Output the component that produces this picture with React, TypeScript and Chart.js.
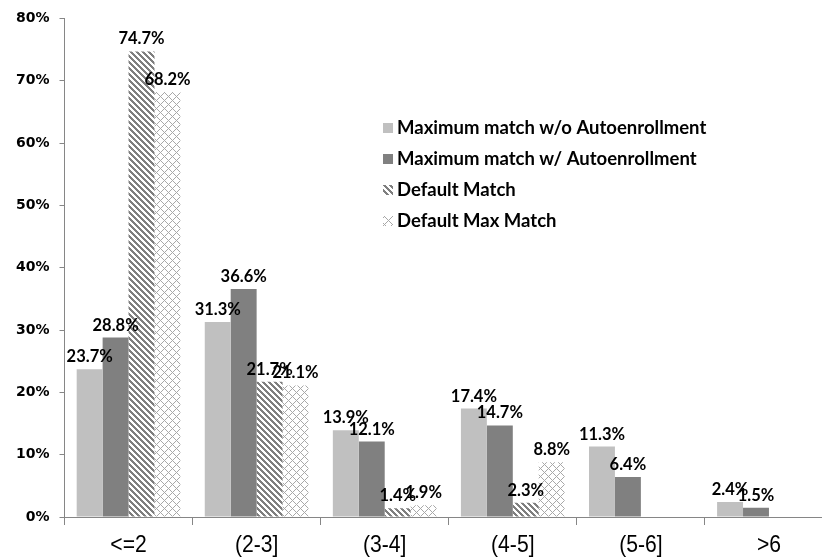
import React, { useEffect, useRef } from "react";
import { Chart, registerables } from "chart.js";

Chart.register(...registerables);

const categories = ["<=2", "(2-3]", "(3-4]", "(4-5]", "(5-6]", ">6"];
const seriesNames = [
  "Maximum match w/o Autoenrollment",
  "Maximum match w/ Autoenrollment",
  "Default Match",
  "Default Max Match",
];
const maxMatchNoAuto = [23.7, 31.3, 13.9, 17.4, 11.3, 2.4];
const maxMatchAuto = [28.8, 36.6, 12.1, 14.7, 6.4, 1.5];
const defaultMatch = [74.7, 21.7, 1.4, 2.3, null, null];
const defaultMaxMatch = [68.2, 21.1, 1.9, 8.8, null, null];
const yTicks = [0, 10, 20, 30, 40, 50, 60, 70, 80];

function makeDiagonal(): CanvasPattern | string {
  const s = 6;
  const c = document.createElement("canvas");
  c.width = s;
  c.height = s;
  const ctx = c.getContext("2d")!;
  ctx.fillStyle = "#ffffff";
  ctx.fillRect(0, 0, s, s);
  ctx.fillStyle = "#7f7f7f";
  for (let x = 0; x < s; x++)
    for (let y = 0; y < s; y++) {
      const d = (((x - y) % s) + s) % s;
      if (d < 3) ctx.fillRect(x, y, 1, 1);
    }
  return ctx.createPattern(c, "repeat") || "#888";
}

function makeDiamond(): CanvasPattern | string {
  const s = 8;
  const c = document.createElement("canvas");
  c.width = s;
  c.height = s;
  const ctx = c.getContext("2d")!;
  ctx.fillStyle = "#ffffff";
  ctx.fillRect(0, 0, s, s);
  ctx.fillStyle = "#a8a8a8";
  for (let x = 0; x < s; x++)
    for (let y = 0; y < s; y++) {
      const a = (((x - y) % s) + s) % s;
      const b = (x + y) % s;
      if (a === 0 || b === 0) ctx.fillRect(x, y, 1, 1);
    }
  return ctx.createPattern(c, "repeat") || "#ccc";
}

export default function App() {
  const ref = useRef<HTMLCanvasElement>(null);
  useEffect(() => {
    document.documentElement.style.overflow = "hidden";
    document.body.style.overflow = "hidden";
    const diag = makeDiagonal();
    const diam = makeDiamond();
    const fills = ["#c0c0c0", "#808080", diag, diam];

    const labelPlugin = {
      id: "barLabels",
      afterDatasetsDraw(chart: any) {
        const ctx = chart.ctx;
        ctx.save();
        ctx.font = "bold 16.5px Lato";
        ctx.fillStyle = "#000";
        ctx.textAlign = "center";
        ctx.textBaseline = "alphabetic";
        chart.data.datasets.forEach((ds: any, di: number) => {
          const meta = chart.getDatasetMeta(di);
          meta.data.forEach((bar: any, i: number) => {
            const v = ds.data[i];
            if (v === null || v === undefined) return;
            ctx.fillText(v.toFixed(1) + "%", bar.x, bar.y - 7);
          });
        });
        ctx.restore();
      },
    };

    const xLabelPlugin = {
      id: "xLabels",
      afterDraw(chart: any) {
        const ctx = chart.ctx;
        const xs = chart.scales.x;
        ctx.save();
        ctx.font = "24px 'Liberation Sans'";
        ctx.fillStyle = "#000";
        ctx.textAlign = "center";
        ctx.textBaseline = "alphabetic";
        const base = chart.chartArea.bottom + 35;
        categories.forEach((c, i) => {
          const px = xs.getPixelForValue(i);
          ctx.save();
          ctx.translate(px, base);
          ctx.scale(0.88, 1);
          ctx.fillText(c, 0, 0);
          ctx.restore();
        });
        ctx.restore();
      },
    };

    const legendPlugin = {
      id: "customLegend",
      afterDraw(chart: any) {
        const ctx = chart.ctx;
        ctx.save();
        const x0 = 383;
        const y0 = 128;
        const gap = 31;
        ctx.font = "bold 18.5px Lato";
        ctx.textBaseline = "middle";
        ctx.textAlign = "left";
        seriesNames.forEach((name, i) => {
          const y = y0 + i * gap;
          ctx.fillStyle = fills[i] as any;
          ctx.fillRect(x0, y - 5, 10, 10);
          ctx.fillStyle = "#000";
          ctx.fillText(name, x0 + 14, y);
        });
        ctx.restore();
      },
    };

    const data = [maxMatchNoAuto, maxMatchAuto, defaultMatch, defaultMaxMatch];
    const chart = new Chart(ref.current!, {
      type: "bar",
      data: {
        labels: categories,
        datasets: seriesNames.map((n, i) => ({
          label: n,
          data: data[i] as any,
          backgroundColor: fills[i] as any,
          borderWidth: 0,
          categoryPercentage: 0.81,
          barPercentage: 1,
        })),
      },
      options: {
        animation: false,
        responsive: false,
        layout: { padding: { top: 8, right: 7, left: 6, bottom: 33 } },
        plugins: { legend: { display: false }, tooltip: { enabled: false } },
        scales: {
          x: {
            grid: {
              display: true,
              drawOnChartArea: false,
              drawTicks: true,
              tickLength: 8,
              color: "#868686",
              offset: true,
            },
            border: { display: true, color: "#868686", width: 1 },
            ticks: { display: false },
          },
          y: {
            min: 0,
            max: 80,
            afterBuildTicks: (axis: any) => {
              axis.ticks = yTicks.map((v) => ({ value: v }));
            },
            grid: {
              display: true,
              drawOnChartArea: false,
              drawTicks: true,
              tickLength: 5,
              color: "#868686",
            },
            border: { display: true, color: "#868686", width: 1 },
            ticks: {
              color: "#000",
              font: { family: "DejaVu Sans", size: 14, weight: "bold" },
              padding: 10,
              callback: (v: any) => v + "%",
            },
          },
        },
      },
      plugins: [labelPlugin, xLabelPlugin, legendPlugin],
    });
    return () => chart.destroy();
  }, []);
  return (
    <div style={{ position: "absolute", left: 0, top: 0, width: 840, height: 558, background: "#fff" }}>
      <canvas ref={ref} width={840} height={558} style={{ width: 840, height: 558, display: "block" }} />
    </div>
  );
}
